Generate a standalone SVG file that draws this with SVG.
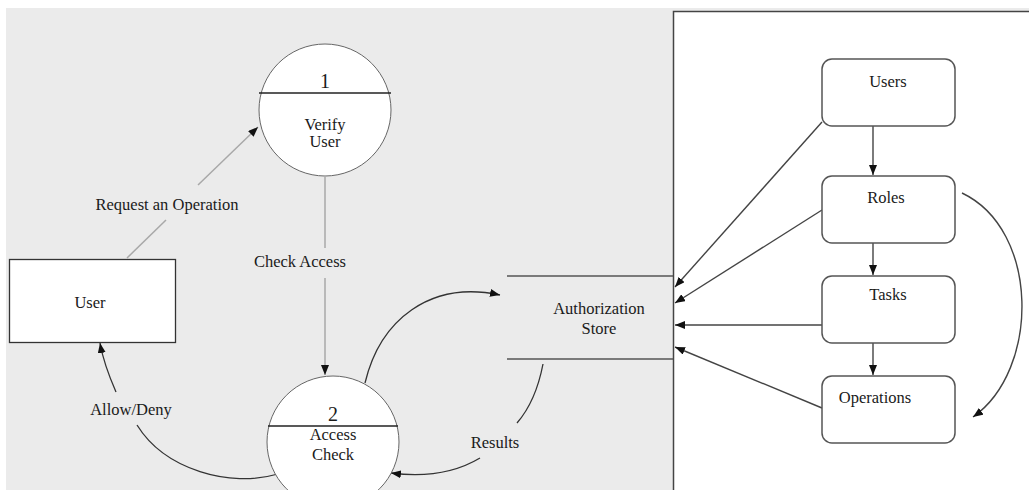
<svg xmlns="http://www.w3.org/2000/svg" width="1029" height="490" viewBox="0 0 1029 490">
  <style>
    text { font-family: 'Liberation Serif', 'DejaVu Serif', serif; font-size: 16.5px; fill: #1a1a1a; text-anchor: middle; }
    .num { font-size: 20px; }
    .proc { fill: #fff; stroke: #666; stroke-width: 1; }
    .divider { stroke: #222; stroke-width: 1.5; }
    .flow-light { fill: none; stroke: #a8a8a8; stroke-width: 1.5; }
    .flow-dark { fill: none; stroke: #333; stroke-width: 1.3; }
    .store-line { stroke: #555; stroke-width: 1.5; }
    .entity { fill: #fff; stroke: #333; stroke-width: 1.3; }
    .obj { fill: #fff; stroke: #555; stroke-width: 1.5; }
    .link { fill: none; stroke: #444; stroke-width: 1.4; }
  </style>
  <defs>
    <marker id="head" viewBox="0 0 10 8" refX="10" refY="4" markerWidth="10" markerHeight="8" markerUnits="userSpaceOnUse" orient="auto">
      <path d="M0,0 L10,4 L0,8 Z" fill="#111"/>
    </marker>
  </defs>

  <!-- backgrounds -->
  <rect x="0" y="0" width="1029" height="490" fill="#fff"/>
  <rect x="6" y="8" width="1023" height="482" fill="#ebebeb"/>
  <rect id="model-panel" x="673.5" y="11.5" width="360" height="485" fill="#fff" stroke="#444" stroke-width="1.5"/>

  <!-- connectors -->
  <g id="connectors">
    <!-- Request an Operation -->
    <line class="flow-light" x1="127" y1="258" x2="166" y2="220"/>
    <line class="flow-light" x1="198" y1="185" x2="258" y2="127" marker-end="url(#head)"/>
    <!-- Check Access -->
    <line class="flow-light" x1="325" y1="177" x2="325" y2="248"/>
    <line class="flow-light" x1="325" y1="278" x2="325" y2="375" marker-end="url(#head)"/>
    <!-- Allow/Deny -->
    <path class="flow-dark" d="M278,474 C230,488 165,470 137,425"/>
    <path class="flow-dark" d="M116,392 C109,376 103,360 100,343" marker-end="url(#head)"/>
    <!-- Access Check to store -->
    <path class="flow-dark" d="M365,383 C380,320 430,280 500,295" marker-end="url(#head)"/>
    <!-- Results -->
    <path class="flow-dark" d="M543,364 C538,390 530,408 517,423"/>
    <path class="flow-dark" d="M480,458 C460,470 430,478 391,473" marker-end="url(#head)"/>

    <!-- hierarchy -->
    <line class="link" x1="873" y1="126" x2="873" y2="175" marker-end="url(#head)"/>
    <line class="link" x1="873" y1="243" x2="873" y2="275" marker-end="url(#head)"/>
    <line class="link" x1="873" y1="343" x2="873" y2="375" marker-end="url(#head)"/>
    <path class="link" d="M962,193 C1040,230 1040,370 973,417" marker-end="url(#head)"/>

    <!-- into the store -->
    <line class="link" x1="822" y1="122" x2="675" y2="287" marker-end="url(#head)"/>
    <line class="link" x1="822" y1="210" x2="675" y2="303" marker-end="url(#head)"/>
    <line class="link" x1="822" y1="325" x2="675" y2="325" marker-end="url(#head)"/>
    <line class="link" x1="822" y1="408" x2="675" y2="347" marker-end="url(#head)"/>
  </g>

  <!-- flow labels -->
  <g id="labels">
    <text x="167" y="210">Request an Operation</text>
    <text x="300" y="267">Check Access</text>
    <text x="131" y="415">Allow/Deny</text>
    <text x="495" y="448">Results</text>
  </g>

  <g id="verify-user">
    <circle class="proc" cx="325" cy="110" r="66"/>
    <line class="divider" x1="259" y1="93" x2="391" y2="93"/>
    <text class="num" x="325" y="88">1</text>
    <text x="325" y="130">Verify</text>
    <text x="325" y="147">User</text>
  </g>

  <g id="access-check">
    <circle class="proc" cx="333" cy="442" r="66"/>
    <line class="divider" x1="268" y1="426" x2="398" y2="426"/>
    <text class="num" x="333" y="421">2</text>
    <text x="333" y="440">Access</text>
    <text x="333" y="460">Check</text>
  </g>

  <g id="user">
    <rect class="entity" x="9.5" y="259.5" width="166" height="83"/>
    <text x="90" y="308">User</text>
  </g>

  <g id="authorization-store">
    <line class="store-line" x1="507" y1="276" x2="673" y2="276"/>
    <line class="store-line" x1="507" y1="359" x2="673" y2="359"/>
    <text x="599" y="314">Authorization</text>
    <text x="599" y="334">Store</text>
  </g>

  <g id="users">
    <rect class="obj" x="822" y="59" width="133" height="67" rx="10"/>
    <text x="888" y="87">Users</text>
  </g>
  <g id="roles">
    <rect class="obj" x="822" y="176" width="133" height="67" rx="10"/>
    <text x="886" y="203">Roles</text>
  </g>
  <g id="tasks">
    <rect class="obj" x="822" y="276" width="133" height="67" rx="10"/>
    <text x="888" y="300">Tasks</text>
  </g>
  <g id="operations">
    <rect class="obj" x="822" y="376" width="133" height="67" rx="10"/>
    <text x="875" y="403">Operations</text>
  </g>
</svg>
